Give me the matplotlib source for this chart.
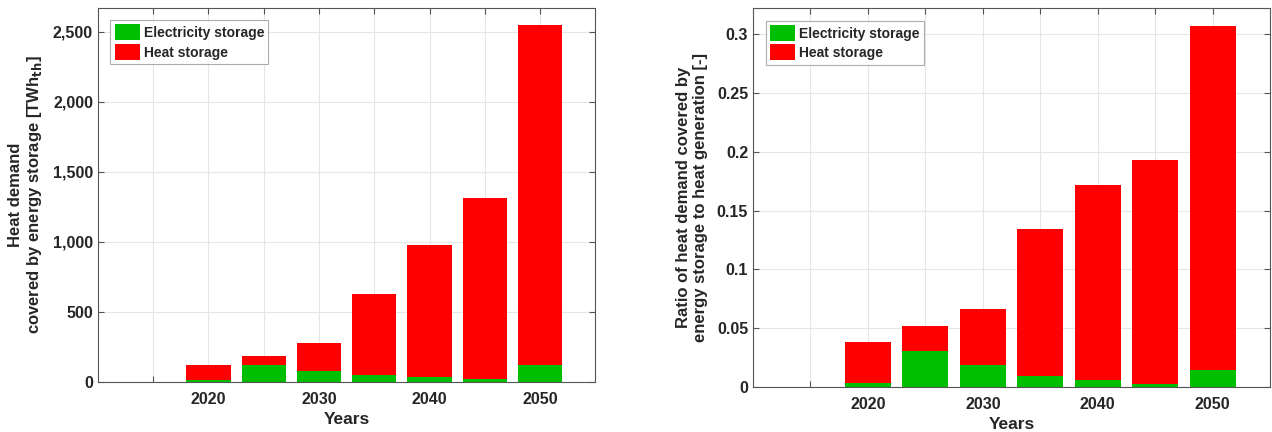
import matplotlib.pyplot as plt
import numpy as np
from matplotlib.ticker import FuncFormatter, MultipleLocator

plt.rcParams['font.family'] = ['Liberation Sans', 'DejaVu Sans']
plt.rcParams['font.weight'] = 'bold'

years = [2020, 2025, 2030, 2035, 2040, 2045, 2050]

# left panel: heat demand covered by storage [TWh_th]
elec_twh = [17, 117, 81, 48, 38, 21, 124]
total_twh = [121, 188, 276, 624, 979, 1310, 2545]
heat_twh = [t - e for t, e in zip(total_twh, elec_twh)]

# right panel: ratio to heat generation [-]
elec_ratio = [0.0031, 0.0309, 0.0184, 0.0091, 0.0060, 0.0025, 0.0147]
total_ratio = [0.0385, 0.0516, 0.0666, 0.134, 0.1717, 0.193, 0.307]
heat_ratio = [t - e for t, e in zip(total_ratio, elec_ratio)]

GREEN = '#00BF00'
RED = '#FF0000'
DARK = '#262626'


def style_axes(ax):
    ax.set_xlim(2010, 2055)
    ax.set_xticks(np.arange(2015, 2055, 5))
    ax.set_xticklabels(['' if y % 10 else str(y) for y in range(2015, 2055, 5)])
    ax.grid(True, color='#e6e6e6', linewidth=0.8)
    ax.set_axisbelow(True)
    for s in ax.spines.values():
        s.set_color('#555555')
        s.set_linewidth(0.8)
    ax.tick_params(direction='in', top=True, right=True, length=4,
                   colors='#555555', labelcolor=DARK, labelsize=11.5)
    ax.tick_params(axis='x', pad=7)
    for lbl in ax.get_xticklabels() + ax.get_yticklabels():
        lbl.set_fontweight('bold')
    ax.set_xlabel('Years', fontsize=12.5, fontweight='bold', color=DARK, labelpad=4)
    leg = ax.legend(loc='upper left', fontsize=10, frameon=True, fancybox=False,
                    edgecolor='#999999', handlelength=1.8, handleheight=1.4,
                    borderaxespad=0.9, labelspacing=0.25, handletextpad=0.3,
                    borderpad=0.3)
    leg.get_frame().set_linewidth(0.8)
    for t in leg.get_texts():
        t.set_fontweight('bold')
        t.set_color(DARK)


fig = plt.figure(figsize=(12.72, 4.32), dpi=100)

ax1 = fig.add_axes([0.077, 0.116, 0.391, 0.866])
ax1.bar(years, elec_twh, width=4, color=GREEN, label='Electricity storage')
ax1.bar(years, heat_twh, width=4, bottom=elec_twh, color=RED, label='Heat storage')
ax1.set_ylim(0, 2670)
ax1.yaxis.set_major_locator(MultipleLocator(500))
ax1.yaxis.set_major_formatter(FuncFormatter(lambda v, p: f'{int(v):,}'))
ax1.set_ylabel('Heat demand\ncovered by energy storage [TWh$_{\\mathbf{th}}$]',
               fontsize=12, fontweight='bold', color=DARK, labelpad=6)
style_axes(ax1)

ax2 = fig.add_axes([0.592, 0.104, 0.4065, 0.877])
ax2.bar(years, elec_ratio, width=4, color=GREEN, label='Electricity storage')
ax2.bar(years, heat_ratio, width=4, bottom=elec_ratio, color=RED, label='Heat storage')
ax2.set_ylim(0, 0.322)
ax2.yaxis.set_major_locator(MultipleLocator(0.05))
ax2.yaxis.set_major_formatter(FuncFormatter(lambda v, p: '0' if abs(v) < 1e-9 else f'{v:g}'))
ax2.set_ylabel('Ratio of heat demand covered by\nenergy storage to heat generation [-]',
               fontsize=12, fontweight='bold', color=DARK, labelpad=6)
style_axes(ax2)

fig.savefig('out.png', dpi=100)
